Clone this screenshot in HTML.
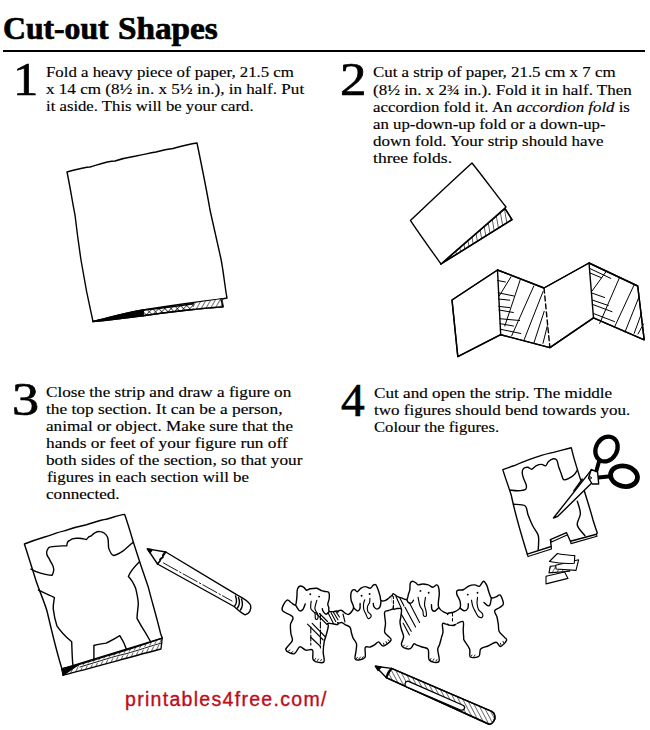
<!DOCTYPE html>
<html><head><meta charset="utf-8">
<style>
html,body{margin:0;padding:0;background:#fff;}
body{width:650px;height:730px;position:relative;overflow:hidden;}
.t{-webkit-text-stroke:0.15px #000;position:absolute;font-family:"Liberation Serif",serif;font-size:14.8px;line-height:14.8px;white-space:nowrap;color:#000;transform-origin:0 0;}
.n{-webkit-text-stroke:0.7px #000;position:absolute;font-family:"Liberation Serif",serif;font-size:46px;line-height:46px;color:#000;transform-origin:0 0;}
h1{position:absolute;margin:0;top:12.5px;font-family:"Liberation Serif",serif;font-weight:bold;font-size:31px;line-height:31px;color:#000;transform-origin:0 0;white-space:nowrap;-webkit-text-stroke:0.7px #000;}
.rule{position:absolute;left:3px;top:50px;width:642px;height:2px;background:#000;}
.wm{position:absolute;left:125px;top:690px;font-family:"Liberation Sans",sans-serif;font-size:19.5px;line-height:19.5px;letter-spacing:1.3px;color:#be0c18;-webkit-text-stroke:0.35px #be0c18;white-space:nowrap;}
svg{position:absolute;left:0;top:0;}
</style></head><body>
<h1 style="left:3.4px;transform:scaleX(1.022)">Cut-out</h1><h1 style="left:118.3px;transform:scaleX(1.072)">Shapes</h1>
<div class="rule"></div>
<div class="n" style="left:12.5px;top:57px;transform:scaleX(1.1)">1</div>
<div class="n" style="left:339.5px;top:57px;transform:scaleX(1.15)">2</div>
<div class="n" style="left:12px;top:377px;transform:scaleX(1.18)">3</div>
<div class="n" style="left:341px;top:377.5px;transform:scaleX(1.03)">4</div>
<div class="t" style="left:46.4px;top:65.3px;transform:scaleX(1.1350)">Fold a heavy piece of paper, 21.5 cm</div>
<div class="t" style="left:46.3px;top:82.1px;transform:scaleX(1.1545)">x 14 cm (8½ in. x 5½ in.), in half. Put</div>
<div class="t" style="left:46.4px;top:98.9px;transform:scaleX(1.1291)">it aside. This will be your card.</div>
<div class="t" style="left:373.2px;top:65.4px;transform:scaleX(1.1403)">Cut a strip of paper, 21.5 cm x 7 cm</div>
<div class="t" style="left:373.2px;top:82.5px;transform:scaleX(1.1482)">(8½ in. x 2¾ in.). Fold it in half. Then</div>
<div class="t" style="left:373.2px;top:99.6px;transform:scaleX(1.1373)">accordion fold it. An <i>accordion fold</i> is</div>
<div class="t" style="left:373.2px;top:116.7px;transform:scaleX(1.1343)">an up-down-up fold or a down-up-</div>
<div class="t" style="left:373.2px;top:133.8px;transform:scaleX(1.1475)">down fold. Your strip should have</div>
<div class="t" style="left:373.1px;top:150.9px;transform:scaleX(1.1875)">three folds.</div>
<div class="t" style="left:46.4px;top:385.4px;transform:scaleX(1.1590)">Close the strip and draw a figure on</div>
<div class="t" style="left:46.4px;top:402.4px;transform:scaleX(1.1725)">the top section. It can be a person,</div>
<div class="t" style="left:46.4px;top:419.4px;transform:scaleX(1.1585)">animal or object. Make sure that the</div>
<div class="t" style="left:46.4px;top:436.4px;transform:scaleX(1.1712)">hands or feet of your figure run off</div>
<div class="t" style="left:46.4px;top:453.4px;transform:scaleX(1.1639)">both sides of the section, so that your</div>
<div class="t" style="left:46.5px;top:470.4px;transform:scaleX(1.1409)">figures in each section will be</div>
<div class="t" style="left:46.4px;top:487.4px;transform:scaleX(1.1548)">connected.</div>
<div class="t" style="left:373.5px;top:385.9px;transform:scaleX(1.1583)">Cut and open the strip. The middle</div>
<div class="t" style="left:373.5px;top:402.8px;transform:scaleX(1.1507)">two figures should bend towards you.</div>
<div class="t" style="left:373.6px;top:419.7px;transform:scaleX(1.1229)">Colour the figures.</div>
<div class="wm">printables4free.com/</div>
<svg width="650" height="730" viewBox="0 0 650 730" fill="none" stroke="#000" stroke-width="1.4" stroke-linejoin="round" stroke-linecap="round">
<defs>
<pattern id="hb" width="4" height="4" patternUnits="userSpaceOnUse" patternTransform="rotate(25)"><line x1="0" y1="0" x2="0" y2="4" stroke="#000" stroke-width="1.2"/></pattern>
<pattern id="hd" width="4" height="4" patternUnits="userSpaceOnUse" patternTransform="rotate(30)"><line x1="0" y1="0" x2="0" y2="4" stroke="#000" stroke-width="1.1"/></pattern>
<pattern id="hd2" width="4.5" height="4.5" patternUnits="userSpaceOnUse" patternTransform="rotate(-35)"><line x1="0" y1="0" x2="0" y2="4.5" stroke="#000" stroke-width="1.1"/></pattern>
<pattern id="hp" width="3.8" height="3.8" patternUnits="userSpaceOnUse" patternTransform="rotate(-28)"><line x1="0" y1="0" x2="0" y2="3.8" stroke="#000" stroke-width="1.1"/></pattern>
<pattern id="hd3" width="4.6" height="4.6" patternUnits="userSpaceOnUse" patternTransform="rotate(-10)"><line x1="0" y1="0" x2="0" y2="4.6" stroke="#000" stroke-width="1.25"/></pattern>
<pattern id="hx" width="4.4" height="4.4" patternUnits="userSpaceOnUse" patternTransform="rotate(45)"><line x1="0" y1="0" x2="0" y2="4.4" stroke="#000" stroke-width="1.2"/><line x1="0" y1="0" x2="4.4" y2="0" stroke="#000" stroke-width="1.2"/></pattern>
</defs>

<!-- STEP 1 card -->
<g id="card1">
<path d="M67,172 C78,169 86,167 90,167 C100,164 108,161 115,161 C124,158 130,157 136,156 C146,154 150,153 156,152 C163,150 168,149 173,148.5 C182,146 190,144 197,143 C203,172 207,192 210,210 C214,228 218,245 221,259 C224,275 225,288 227,298 L222,299 C200,303 175,307 143,310 C125,313 108,318 93,321.5 C88,300 85,285 81,260 C78,240 77,232 75,215 C72,200 70,186 67,172 Z" fill="#fff"/>
<path d="M143,310 C165,306.5 195,302 222,299 L223,306.8 C195,309 170,312 143,315.7 Z" fill="url(#hx)"/>
<path d="M194,303 L222,299 L223,306.8 L194,310 Z" fill="#fff" stroke="none"/>
<path d="M194,303 L222,299 L223,306.8 L194,310 Z" fill="url(#hd)" stroke="none"/>
<path d="M93,321.5 C108,318 125,313 143,310 L143,315.7 C125,318 108,320 93,321.5 Z" fill="#000"/>
<path d="M93,321.5 C120,319 140,316 143,315.7 C170,312 195,309 223,306.8 L221,299.5"/>
</g>

<!-- STEP 2 folded paper -->
<path d="M441,264 L512,219.6 L505,208.5 Z" fill="url(#hd3)"/>
<path d="M441,264 L512,219.6 L505,208.5 Z"/>
<path d="M410.4,220.4 C430,202 450,183 472,163 C484,178 495,193 506,207 C485,226 462,245 441,264 C431,250 420,235 410.4,220.4 Z" fill="#fff"/>

<!-- STEP 2 accordion -->
<g id="acc">
<path d="M452,300 L497.5,270 L544,288 L589,263 L637.7,286 L644.2,339.8 L593.5,317.9 L549.9,347.6 L500.7,334.7 L457.8,356.6 Z" fill="#fff"/>
<line x1="497.5" y1="270" x2="500.7" y2="334.7"/>
<line x1="544" y1="288" x2="549.9" y2="347.6" stroke-dasharray="5 3"/>
<line x1="589" y1="263" x2="593.5" y2="317.9"/>
<g stroke-width="1">
<line x1="511" y1="276.8" x2="499.2" y2="296"/>
<line x1="520.2" y1="279.9" x2="504.8" y2="326"/>
<line x1="533.8" y1="286" x2="511.6" y2="336"/>
<line x1="543" y1="291.6" x2="523.9" y2="340.3"/>
<line x1="544.2" y1="311.3" x2="533.8" y2="343.3"/>
<line x1="547.3" y1="326" x2="543" y2="343.3"/>
<line x1="497.6" y1="280.5" x2="505.4" y2="282"/>
<line x1="498.2" y1="292.8" x2="514" y2="296"/>
<line x1="498.4" y1="299" x2="509.7" y2="300.2"/>
<line x1="498.7" y1="306.4" x2="509.7" y2="307.6"/>
<line x1="499" y1="310" x2="513.4" y2="312.5"/>
<line x1="499.6" y1="318.7" x2="519.6" y2="320.5"/>
<line x1="499.8" y1="323.6" x2="513.4" y2="326"/>
<line x1="500.2" y1="329.2" x2="520.8" y2="333.5"/>
<line x1="606.5" y1="271" x2="592.3" y2="290.7"/>
<line x1="619.4" y1="277.8" x2="599.7" y2="323.4"/>
<line x1="634.2" y1="284.6" x2="614.5" y2="327.1"/>
<line x1="638.5" y1="298.1" x2="625" y2="332"/>
<line x1="641.6" y1="313" x2="634.2" y2="333.3"/>
<line x1="643.5" y1="324" x2="638" y2="334"/>
<line x1="589.8" y1="268.5" x2="610.8" y2="278.4"/>
<line x1="589.8" y1="272.9" x2="601.6" y2="277.8"/>
<line x1="592.3" y1="293.2" x2="604.6" y2="297.5"/>
<line x1="592.3" y1="300" x2="608.3" y2="305.5"/>
<line x1="592.3" y1="304.3" x2="612" y2="311.7"/>
<line x1="593.5" y1="313.5" x2="614.5" y2="321.6"/>
</g>
<path d="M452,300 L497.5,270 L544,288 L589,263 L637.7,286 L644.2,339.8 L593.5,317.9 L549.9,347.6 L500.7,334.7 L457.8,356.6 Z"/>
</g>

<!-- STEP 3 card -->
<g id="card3">
<path d="M24.4,544 C32,541 38,539 44.6,537 C52,535 58,532 64.3,530.9 C72,528 80,526 86.5,524.7 C93,523 100,520 106.2,519.3 C112,518 118,515 124.7,514.4 C128,524 131,534 133.3,542 C138,557 143,572 148.1,586.4 C152,602 157,618 160.5,633.2 L162.2,638.1 L62,669 C56,650 52,632 47,611 C43,598 38,588 34.7,576.5 C31,565 28,555 24.4,544 Z" fill="#fff"/>
<path d="M31,569.1 C34,571 37,572 39.7,572.8 C44,574 48,575 52,575.3 C54,572 54,569 53.2,566.6 C52,563 50,561 49.5,559.2 C47,556 46,553 47,550.6 C48,548 49,547 50.7,546.9 C55,546 61,546 66.8,545.7 C67,543 68,541 69.2,540.7 C72,538 75,538 77.9,538.3 C81,538 84,539 86.5,539.5 C88,537 90,536 91.4,535.8 C94,533 97,531 100.1,531.6 C104,532 106,534 107.5,537 C109,541 108,545 108.7,548.1 C110,552 112,555 113.6,555.5 C117,555 120,553 123.5,550.6 C127,548 131,544 133.3,542"/>
<path d="M139.5,561.7 C134,567 130,572 128.4,576.5 C132,580 134,584 135.8,588.8 C137,594 138,598 138.3,603.6 C138,609 137,614 137,618.4 C140,624 143,629 145.7,633.2 L150.5,641.5"/>
<path d="M38.4,590.1 C44,593 50,595 54.4,597.5 C54,601 53,605 53.2,608.6 C54,615 55,620 56.9,625.8 C61,632 66,637 71.7,641.8 C72,649 72,656 72.9,665.2"/>
<path d="M93.9,659.3 L93.9,645.5 C98,644 102,644 106.2,643.1 C111,641 116,638 119.8,635.7 C122,639 124,642 126.5,649.5"/>
<path d="M62,669 L162.2,638.1 L161,649 L63.1,675.1 Z" fill="url(#hb)" stroke="none"/>
<path d="M62,669 C80,665 95,660 110,655 C125,651 145,644 162.2,638.1" stroke-width="1.3"/>
<path d="M80,667 C100,661 115,656 125,654 C140,650 150,646 161.8,643" stroke="#fff" stroke-width="2.2"/>
<path d="M80,667 C100,661 115,656 125,654 C140,650 150,646 161.8,643" stroke-width="0.9"/>
<path d="M63.1,675.1 C95,667 130,657 161,649 L162.2,638.1" stroke-width="1.3"/>
<path d="M62,669 L63.1,675.1"/>
<path d="M62,669 L78,665 L63.1,675.1 Z" fill="#000"/>
</g>

<!-- STEP 3 pencil -->
<g id="pencil1">
<path d="M165.8,552 L237.8,595.4 C243,598 248,601 250.5,605 C252,610 249,614 245.2,614.8 C241,613 237,609 234.1,606.5 L157.5,564 Z" fill="#fff"/>
<path d="M147.4,548.9 L165.8,552 C163,553.5 162,555.5 163,557.5 C161,558 159,559 160,561 C159,562 158,563 157.5,564 Z" fill="#fff"/>
<path d="M147.4,548.9 L152,549.8 L150,553 Z" fill="#000"/>
<path d="M163.5,563 L232,601" stroke-width="0.9" stroke-dasharray="16 2.5 1.5 2.5"/>
<path d="M235.5,596 C237,600 236.5,604 234.5,606.2 M238.5,597.6 C240,601 239.5,605 237.5,608 M241.5,599 C243,603 242.5,607 240.5,610"/>
</g>

<!-- STEP 4 card -->
<g id="card4">
<path d="M502.8,469.6 C508,468 511,466.5 513.8,465.8 C518,464 523,462 527.7,460.2 C532,458.5 537,457 541.5,455.4 C546,454 551,453 555.4,451.9 C561,450.5 566,449 571.3,447.8 C573,455 575,462 577.5,469.9 C579,475 581,481 583,486.5 C587,500 591,512 593,520 C595,526 596,530 597.3,532.7 L596.5,534.2 L570.4,541.2 L566.5,532.7 L550.4,539.6 L551.2,546.5 L527.3,554.2 C522,537 516,518 511.2,495 C508,485 505,477 502.8,469.6 Z" fill="#fff"/>
<path d="M527.3,554.2 L528,556.6 L551.5,549 L551.2,546.5 M570.4,541.2 L571,543.6 L597,536.3 L596.5,534.2 M550.4,539.6 L551.5,542 L566.5,535.2" stroke-width="1.1"/>
<path d="M509.7,490.0 C511.1,490.1 515.4,490.8 518.0,490.7 C520.6,490.6 524.2,490.2 525.6,489.3 C527.0,488.4 526.6,487.1 526.3,485.2 C525.9,483.3 524.2,480.3 523.5,478.2 C522.8,476.1 522.2,474.3 522.2,472.7 C522.2,471.1 522.6,469.4 523.5,468.5 C524.4,467.6 526.3,467.1 527.7,467.2 C529.1,467.3 530.4,469.4 531.8,469.2 C533.2,469.0 534.4,466.6 536.0,465.8 C537.6,465.0 539.9,464.4 541.5,464.4 C543.1,464.4 544.5,466.3 545.7,465.8 C546.9,465.3 547.2,462.8 548.5,461.6 C549.8,460.4 551.9,459.0 553.3,458.8 C554.7,458.6 555.9,458.8 556.8,460.2 C557.7,461.6 558.1,465.1 558.8,467.2 C559.5,469.3 560.1,470.6 560.9,472.7 C561.7,474.8 562.3,478.7 563.7,479.6 C565.1,480.5 567.5,479.0 569.2,478.2 C570.9,477.4 572.7,476.2 574.1,474.8 C575.5,473.4 576.9,470.7 577.5,469.9"/>
<path d="M513.5,504.2 C515.4,504.5 522.6,504.0 525.0,505.8 C527.4,507.6 526.8,511.7 528.1,515.0 C529.4,518.3 531.0,522.5 532.7,525.8 C534.4,529.1 537.1,532.1 538.1,535.0 C539.1,537.9 538.6,540.4 538.6,543.0 C538.6,545.6 538.2,549.2 538.1,550.4"/>
<path d="M577.3,501.2 C577.8,503.2 580.4,509.5 580.4,513.5 C580.4,517.5 576.5,521.3 577.3,525.0 C578.1,528.7 583.7,534.0 585.0,535.8"/>
</g>

<!-- scissors -->
<g id="sc">
<path d="M599,461.5 L596.5,470.5 M608.4,476.5 L598.5,477.5" stroke-width="4"/>
<path d="M582.3,479 L573.8,491"/>
<path d="M590.8,470.6 L553.5,518 L557.8,516.3 L595.8,479 Z" fill="#fff"/>
<path d="M591.2,469.5 L597.6,472.2 L598.7,484 L592.2,484 L588.5,478 Z" fill="#fff"/>
<circle cx="590" cy="477.9" r="1.3" stroke-width="0.9"/>
<ellipse cx="606.5" cy="449" rx="10.5" ry="13" transform="rotate(30 606.5 449)" stroke-width="4.3"/>
<ellipse cx="624" cy="476.2" rx="13.6" ry="10.2" transform="rotate(12 624 476.2)" stroke-width="4.8"/>
</g>

<!-- confetti -->
<g id="conf" stroke-width="1.1">
<path d="M550.2,566.2 L549,572.9 L569.7,571.2 L565,565 Z" fill="url(#hd)"/>
<path d="M555.7,565.3 L578.6,559.8 L576,570.4 L556,569 Z" fill="#fff"/>
<path d="M549.4,561.5 L557.4,553.5 C563,555 569,555 574.8,555.6 L574.3,563.2 C566,564 557,563 549.4,561.5 Z" fill="#fff"/>
<path d="M546,576.3 L564.6,572 L568,578.4 L546,583.9 Z" fill="#fff"/>
</g>

<!-- bottom pencil -->
<g id="pencil2">
<path d="M391.5,668.4 L491.7,711.4 C495,713 496,718 493.8,721 C492,724 490,724.5 488.5,724 L386.2,677.6 Z" fill="url(#hp)"/>
<path d="M391.5,668.4 L491.7,711.4 C495,713 496,718 493.8,721 C492,724 490,724.5 488.5,724 L386.2,677.6 Z"/>
<path d="M375.4,666.2 L391.5,668.4 C388,671 387,674 386.2,677.6 Z" fill="#fff"/>
<path d="M375.4,666.2 L381,667 L378,670.5 Z" fill="#000"/>
<path d="M408,681.2 C404.5,681.5 404,685.5 406.5,686.8 L460.5,710 C464,711 466,707.5 463.5,705.5 Z" fill="#fff" stroke-width="1.3"/>
</g>

<!-- elephants -->
<g id="E1">
<path d="M286.8,600.3 C288.3,599.0 289.6,601.7 291.0,602.5 C292.4,603.3 294.5,605.9 295.5,604.9 C296.5,603.9 296.6,599.2 296.9,596.6 C297.2,594.0 296.8,591.0 297.4,589.2 C297.9,587.4 299.1,586.3 300.2,586.0 C301.3,585.7 302.7,586.7 303.8,587.4 C304.9,588.1 305.5,590.0 306.6,590.2 C307.7,590.4 308.6,589.1 310.3,588.8 C312.0,588.5 315.0,588.0 316.8,588.3 C318.6,588.6 320.0,590.1 321.4,590.6 C322.8,591.1 323.9,591.2 325.1,591.5 C326.3,591.8 328.1,591.3 328.8,592.5 C329.5,593.7 329.4,596.6 329.2,598.5 C329.0,600.4 327.9,602.5 327.8,604.0 C327.7,605.5 328.6,606.5 328.8,607.7 C329.0,608.9 328.4,610.8 329.2,611.4 C330.0,612.0 332.0,611.6 333.5,611.6 C335.0,611.6 337.2,610.3 338.0,611.4 C338.8,612.5 338.5,615.9 338.5,618.0 C338.5,620.1 338.9,623.3 338.0,624.3 C337.1,625.3 334.7,623.9 333.0,623.8 C331.3,623.6 328.6,623.0 327.8,623.4 C327.0,623.8 328.5,624.3 328.3,626.1 C328.1,627.9 327.2,631.4 326.5,634.0 C325.8,636.6 324.8,638.8 324.2,641.8 C323.6,644.8 323.3,648.5 323.2,651.9 C323.1,655.3 325.3,660.7 323.7,662.1 C322.1,663.5 315.4,662.2 313.5,660.2 C311.6,658.2 313.9,651.8 312.6,650.1 C311.3,648.4 307.9,650.7 305.7,650.1 C303.5,649.5 301.6,646.2 299.7,646.8 C297.8,647.4 296.5,653.3 294.2,653.8 C291.9,654.3 286.1,651.8 285.8,649.6 C285.5,647.4 291.5,643.5 292.3,640.8 C293.1,638.1 291.2,636.3 290.9,633.5 C290.6,630.7 290.2,627.0 290.5,624.2 C290.8,621.4 294.2,619.3 292.8,616.9 C291.4,614.5 283.2,612.8 282.2,610.0 C281.2,607.2 285.3,601.5 286.8,600.3 Z" fill="#fff"/>
<path d="M295.5,604.9 C296.1,605.8 298.0,609.7 299.2,610.5 C300.4,611.3 301.9,610.6 302.9,609.5 C303.9,608.4 304.8,604.9 305.2,604.0 M329.2,611.4 C328.7,611.9 327.0,614.2 326.0,614.2 C325.0,614.2 323.8,612.3 323.2,611.4 C322.6,610.5 322.4,609.1 322.3,608.6"/>
<path d="M311.2,601.2 C311.1,602.4 310.2,606.6 310.8,608.6 C311.4,610.6 314.1,611.5 314.9,613.2 C315.7,614.9 314.9,617.9 315.4,618.8 C315.9,619.7 317.3,619.6 317.7,618.8 C318.1,618.0 318.2,615.9 317.7,614.2 C317.2,612.5 315.0,610.9 314.9,608.6 C314.8,606.3 316.5,601.7 316.8,600.3" stroke-width="1.15"/>
<circle cx="310.3" cy="594.3" r="0.95" fill="#000" stroke="none"/><circle cx="319.1" cy="596.6" r="0.95" fill="#000" stroke="none"/>
</g>
<g id="E2">
<path d="M338.0,611.5 C338.7,610.4 340.5,610.2 341.7,610.5 C342.9,610.8 344.2,612.7 345.4,613.3 C346.6,613.9 347.7,615.1 349.1,614.2 C350.5,613.3 353.2,610.1 353.6,607.8 C354.0,605.5 351.7,602.8 351.2,600.5 C350.7,598.2 350.6,596.0 350.8,594.3 C351.0,592.6 351.7,591.1 352.4,590.3 C353.1,589.5 354.0,589.5 354.8,589.7 C355.6,590.0 356.3,592.0 357.3,591.8 C358.3,591.5 359.7,589.1 361.0,588.2 C362.3,587.3 363.8,586.6 365.3,586.6 C366.8,586.6 368.9,588.5 370.2,588.2 C371.5,588.0 372.4,585.7 373.3,585.1 C374.2,584.5 375.0,584.0 375.8,584.8 C376.6,585.6 377.5,588.1 378.2,590.0 C378.9,591.9 379.6,594.5 380.1,596.2 C380.6,598.0 380.2,599.8 381.0,600.5 C381.8,601.2 383.7,601.0 385.0,600.6 C386.3,600.2 387.7,598.9 389.0,598.0 C390.3,597.1 391.9,594.7 392.7,595.1 C393.5,595.5 393.5,598.4 393.8,600.5 C394.1,602.6 395.2,606.1 394.3,607.8 C393.4,609.5 389.9,609.7 388.3,610.5 C386.7,611.3 385.1,610.2 384.6,612.4 C384.1,614.6 385.5,620.3 385.5,623.5 C385.5,626.7 384.2,629.7 384.6,631.8 C385.0,633.9 386.9,634.6 388.0,636.0 C389.1,637.4 391.9,638.4 391.1,640.1 C390.3,641.8 385.3,645.8 383.2,646.1 C381.1,646.4 380.0,642.1 378.6,641.9 C377.2,641.7 376.3,643.9 374.9,644.7 C373.5,645.6 371.9,646.5 370.3,647.0 C368.7,647.5 366.1,645.7 365.2,647.5 C364.3,649.3 366.4,655.6 364.8,657.6 C363.2,659.6 357.0,660.6 355.5,659.5 C354.0,658.4 355.8,653.8 356.0,651.2 C356.2,648.6 357.0,646.0 356.5,643.8 C356.0,641.6 354.1,640.1 353.2,638.2 C352.3,636.4 351.9,634.5 351.4,632.7 C350.9,630.9 351.0,628.5 350.0,627.2 C349.0,625.9 346.8,625.6 345.4,624.8 C344.0,624.0 342.9,622.8 341.7,622.5 C340.5,622.2 338.7,623.9 338.0,623.0 C337.3,622.1 337.5,618.9 337.5,617.0 C337.5,615.1 337.3,612.6 338.0,611.5 Z" fill="#fff"/>
<path d="M353.6,607.8 C354.2,608.3 356.3,610.7 357.3,610.9 C358.3,611.1 359.3,610.3 359.8,609.1 C360.3,607.9 360.1,604.4 360.1,603.5 M381.0,600.5 C380.9,601.5 380.8,605.2 380.1,606.6 C379.4,608.0 378.0,609.1 377.0,609.1 C376.0,609.1 374.5,607.5 373.9,606.6 C373.3,605.7 373.4,604.0 373.3,603.5"/>
<path d="M364.7,599.8 C364.5,600.5 363.6,602.6 363.5,604.2 C363.4,605.9 363.4,608.1 363.8,609.7 C364.2,611.3 365.2,612.6 365.9,614.0 C366.6,615.4 367.0,617.8 367.8,618.3 C368.6,618.8 370.3,617.7 370.8,617.1 C371.3,616.5 371.3,615.5 370.8,614.6 C370.3,613.7 368.4,612.8 367.8,611.5 C367.2,610.2 367.2,608.1 367.5,606.6 C367.8,605.1 369.2,603.7 369.6,602.3 C370.0,600.9 369.8,599.0 369.9,598.3" stroke-width="1.15"/>
<circle cx="361.6" cy="595.8" r="0.95" fill="#000" stroke="none"/><circle cx="369.6" cy="594" r="0.95" fill="#000" stroke="none"/>
</g>
<g id="E3">
<path d="M392.5,594.4 C393.1,592.4 395.5,595.7 397.0,596.3 C398.5,596.9 399.8,597.4 401.4,597.9 C403.0,598.4 405.5,600.1 406.7,599.5 C407.9,598.9 408.0,595.6 408.5,594.0 C409.0,592.4 409.5,591.8 409.8,590.0 C410.1,588.2 409.8,585.0 410.2,583.5 C410.6,582.0 411.5,581.3 412.5,581.2 C413.5,581.1 415.3,582.5 416.2,583.1 C417.1,583.7 417.0,584.8 418.1,584.9 C419.2,585.0 421.0,584.0 422.7,584.0 C424.4,584.0 426.5,584.4 428.2,584.9 C429.9,585.4 431.4,587.2 432.8,587.2 C434.2,587.2 435.6,585.0 436.5,584.9 C437.4,584.8 437.9,585.3 438.4,586.8 C438.9,588.3 439.3,591.2 439.3,593.7 C439.3,596.2 438.5,599.7 438.4,602.0 C438.3,604.3 437.9,605.8 438.8,607.5 C439.7,609.2 442.0,611.1 443.9,612.2 C445.8,613.3 448.5,613.9 450.4,614.0 C452.2,614.1 454.1,611.8 455.0,612.6 C455.9,613.4 455.5,616.9 455.5,619.0 C455.5,621.1 455.9,624.1 455.0,625.1 C454.1,626.1 451.8,625.2 450.4,625.1 C449.0,625.0 448.0,624.4 446.7,624.2 C445.4,624.0 443.1,622.5 442.5,623.7 C441.9,625.0 443.1,629.5 443.0,631.7 C442.9,633.9 442.2,634.9 441.6,637.1 C441.0,639.3 440.1,642.7 439.5,644.8 C438.9,646.9 437.8,646.7 437.7,649.5 C437.6,652.3 440.3,659.7 438.9,661.5 C437.5,663.3 431.2,662.3 429.4,660.3 C427.6,658.3 429.4,651.7 428.2,649.5 C427.0,647.3 424.0,647.8 422.0,647.0 C420.0,646.2 417.6,645.3 416.2,644.8 C414.8,644.3 414.9,643.1 413.9,643.8 C412.9,644.4 412.1,648.1 410.3,648.7 C408.5,649.3 404.7,648.2 403.2,647.4 C401.7,646.6 401.3,645.6 401.4,643.8 C401.5,642.0 403.6,639.1 403.6,636.7 C403.6,634.3 402.0,631.9 401.4,629.5 C400.8,627.1 400.1,624.6 400.0,622.4 C399.9,620.2 400.7,618.4 400.9,616.2 C401.1,614.0 402.0,610.4 401.4,609.1 C400.8,607.8 398.3,608.6 397.0,608.5 C395.7,608.4 394.1,610.6 393.4,608.2 C392.6,605.9 391.9,596.4 392.5,594.4 Z" fill="#fff"/>
<path d="M406.7,599.5 C407.1,600.1 407.9,602.5 408.8,603.0 C409.7,603.5 411.2,603.0 412.0,602.5 C412.8,602.0 413.2,600.6 413.5,600.2 M438.8,607.5 C438.1,608.1 435.9,610.9 434.7,611.2 C433.5,611.5 432.4,610.5 431.9,609.4 C431.4,608.3 431.6,605.6 431.5,604.8"/>
<path d="M418.1,597.4 C418.4,598.8 419.1,603.6 419.9,605.7 C420.7,607.9 422.1,608.6 422.7,610.3 C423.3,612.0 423.0,614.9 423.6,615.8 C424.2,616.7 426.0,616.7 426.4,615.8 C426.8,614.9 426.2,612.1 425.9,610.3 C425.6,608.5 424.6,606.9 424.5,604.8 C424.4,602.6 425.3,598.6 425.5,597.4" stroke-width="1.15"/>
<circle cx="420.4" cy="590.9" r="0.95" fill="#000" stroke="none"/><circle cx="428.7" cy="592.8" r="0.95" fill="#000" stroke="none"/>
</g>
<g id="E4">
<path d="M448.0,613.5 C449.0,612.4 451.5,613.1 453.5,612.2 C455.5,611.3 458.9,609.9 460.0,608.0 C461.1,606.1 460.5,603.4 460.0,601.1 C459.5,598.8 457.3,596.0 456.8,594.2 C456.3,592.4 456.5,591.2 457.2,590.5 C457.9,589.8 459.8,590.2 460.9,590.0 C462.0,589.8 462.3,590.2 463.7,589.5 C465.1,588.8 467.3,586.6 469.2,585.8 C471.1,585.0 473.1,584.8 474.8,584.9 C476.5,585.0 477.9,586.9 479.4,586.3 C480.8,585.7 482.3,581.4 483.5,581.2 C484.7,581.1 485.9,583.5 486.8,585.4 C487.7,587.3 488.3,590.7 489.1,592.8 C489.9,594.9 490.2,597.1 491.4,597.8 C492.5,598.5 494.5,597.3 496.0,596.9 C497.5,596.5 499.0,594.0 500.2,595.1 C501.4,596.2 503.5,601.7 503.4,603.8 C503.3,605.9 501.2,606.3 499.7,607.5 C498.2,608.7 495.1,609.2 494.6,610.8 C494.1,612.3 496.3,614.6 496.9,616.8 C497.5,619.0 497.9,621.8 498.3,624.2 C498.7,626.7 498.2,629.4 499.2,631.5 C500.2,633.6 503.1,635.6 504.3,637.1 C505.5,638.6 507.2,638.7 506.6,640.3 C506.0,641.9 502.2,646.2 500.5,646.5 C498.8,646.8 498.2,642.3 496.1,642.2 C494.0,642.1 490.6,644.9 488.0,646.0 C485.4,647.1 482.2,647.3 480.7,649.0 C479.2,650.7 480.6,655.0 478.9,656.3 C477.2,657.6 471.9,658.2 470.3,657.0 C468.8,655.8 470.6,651.8 469.6,649.0 C468.6,646.2 465.1,642.3 464.1,640.3 C463.1,638.3 463.9,638.9 463.7,637.1 C463.5,635.3 463.3,632.3 463.2,629.7 C463.1,627.1 464.4,622.2 462.8,621.4 C461.2,620.6 456.0,624.6 453.5,625.1 C451.0,625.6 449.0,625.6 448.0,624.6 C447.0,623.6 447.5,620.9 447.5,619.0 C447.5,617.1 447.0,614.6 448.0,613.5 Z" fill="#fff"/>
<path d="M460.0,608.0 C460.7,608.5 462.9,610.7 464.2,610.8 C465.5,610.9 467.1,609.7 467.8,608.5 C468.5,607.3 468.2,604.6 468.3,603.8 M491.4,597.8 C491.2,599.0 490.6,603.5 490.0,604.8 C489.4,606.1 488.7,606.1 487.7,605.7 C486.7,605.3 484.6,603.0 484.0,602.5"/>
<path d="M471.5,600.2 C471.7,601.3 472.2,604.6 472.9,606.6 C473.6,608.6 474.8,610.5 475.7,612.2 C476.6,613.9 477.4,616.0 478.5,616.8 C479.6,617.6 481.5,617.7 482.2,617.2 C482.9,616.7 483.2,615.3 482.6,614.0 C482.0,612.7 479.4,611.1 478.5,609.4 C477.6,607.7 477.3,605.8 477.1,603.8 C476.9,601.8 477.4,598.5 477.5,597.4" stroke-width="1.15"/>
<circle cx="467.8" cy="594.6" r="0.95" fill="#000" stroke="none"/><circle cx="477.5" cy="592.8" r="0.95" fill="#000" stroke="none"/>
</g>
<path d="M336,612.8 L340,612.8 L340,622 L336,622 Z M391.5,596.5 L395,597 L395,606.8 L391.5,606.8 Z M445.5,615.2 L457,614.2 L457,623.6 L445.5,623.6 Z" fill="#fff" stroke="none"/>
<g stroke-width="1.1">
<path d="M307.5,624.2 L323.2,640 M312.2,623.3 L325.5,637 M310.5,637 L320.5,646.5 M315.3,612.7 L327,624.5 M319.5,613.5 L327.5,621.5"/>
<path d="M310.8,627 L310.8,645 M320.4,614 L320.4,648" stroke-dasharray="6 2"/>
<path d="M328.3,613.2 L333.4,623.4 M331.1,612.8 L335.7,621.5 M333.4,612.3 L338,619.7 M336,612 L339.5,617 M343,614 L345,622"/>
<path d="M396,596.6 L401.4,608.6 M399.6,597.5 L404,606 M401.4,614.4 L411.2,631.3 M405,607.3 L415.6,626.9 M409.4,602.8 L419.6,622.4 M403.2,623.3 L409.4,634.9"/>
<path d="M393.4,596.6 L393.4,598.6 M393.4,600.5 L393.4,603.5 M393.4,605 L393.4,607" stroke-width="1.1"/>
<path d="M452.5,613 L452.5,616 M452.5,618.5 L452.5,621" stroke-width="1.1"/>
</g>
<path d="M285.5,649 L287,648 M288.5,651 L290,650 M291.5,652.5 L293,651.5 M314.5,660 L315.5,658.5 M317.5,660.5 L318.5,659 M320.5,661 L321.5,659.5 M356,659 L357.5,657.3 M359,658.7 L360.5,657 M362,658.3 L363.3,656.7 M384,645 L383.6,643.2 M386.8,643.3 L386,641.5 M389.3,641.3 L388.3,639.8 M403,646.5 L404.5,645 M406,647.5 L407.5,646 M430,660 L431,658.5 M433,660.5 L434,659 M436,661 L437,659.5 M471,656.5 L472,655 M474,656.5 L475,655 M501,645 L500.5,643.3 M503.5,643 L503,641.3" stroke-width="0.9"/>

</svg>
</body></html>
